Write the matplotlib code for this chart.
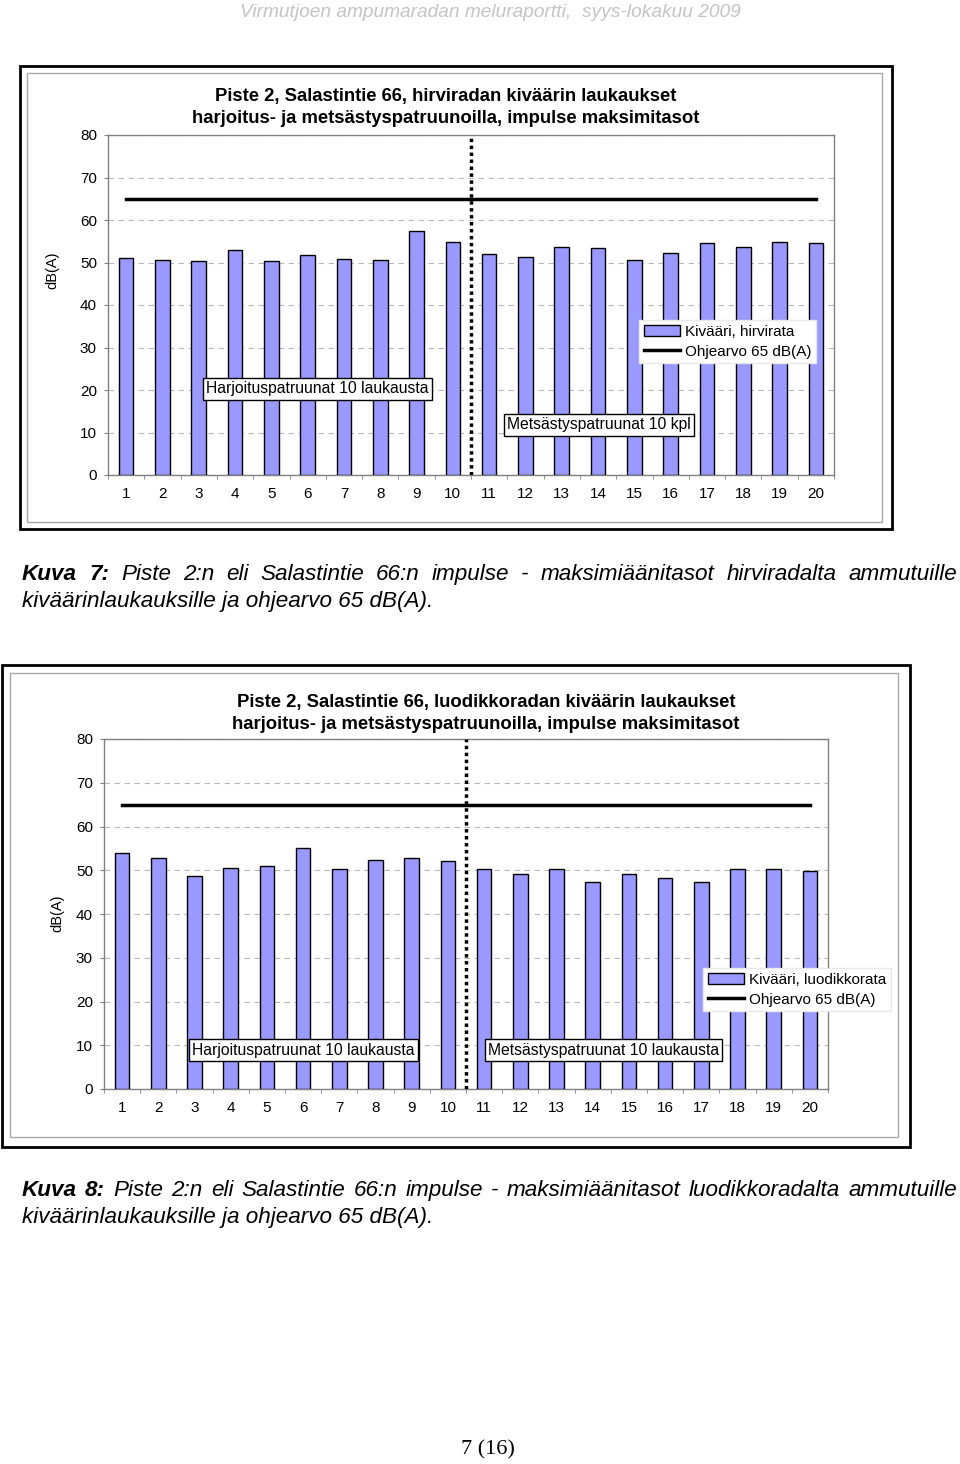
import matplotlib
matplotlib.use("Agg")
import matplotlib.pyplot as plt
from matplotlib.patches import Rectangle, Patch
from matplotlib.lines import Line2D

plt.rcParams['font.family'] = ['Liberation Sans', 'DejaVu Sans']

W, H = 960, 1464

# data
shots = list(range(1, 21))
hirvi_db = [51.1, 50.5, 50.3, 52.9, 50.3, 51.7, 50.8, 50.5, 57.3, 54.9,
            52.0, 51.4, 53.7, 53.4, 50.5, 52.3, 54.6, 53.7, 54.9, 54.6]
luodikko_db = [53.9, 52.7, 48.6, 50.6, 50.9, 55.1, 50.3, 52.4, 52.7, 52.1,
               50.3, 49.1, 50.3, 47.4, 49.1, 48.2, 47.4, 50.3, 50.3, 49.8]
ohjearvo = [65] * 20
y_ticks = [0, 10, 20, 30, 40, 50, 60, 70, 80]
split_at = 10.5

BAR = '#9999ff'
GREY = '#808080'

fig = plt.figure(figsize=(W / 100, H / 100), dpi=100)
fig.patch.set_facecolor('white')


def fx(x):
    return x / W


def fy(y):
    return 1 - y / H


def frame(x0, y0, x1, y1, color, lw):
    fig.add_artist(Rectangle((fx(x0), fy(y1)), (x1 - x0) / W, (y1 - y0) / H,
                             transform=fig.transFigure, fill=False,
                             edgecolor=color, linewidth=lw))


def label_box(x, y, text):
    fig.text(fx(x), fy(y), text, ha='left', va='center', fontsize=11.3,
             bbox=dict(boxstyle='square,pad=0.2', fc='white', ec='black', lw=1))


def draw_chart(outer, inner, plot, values, title, title_pos, ylab_pos,
               legend_label, legend_pos):
    frame(*outer, 'black', 2)
    frame(*inner, '#a8a8a8', 1)
    l, t, r, b = plot
    ax = fig.add_axes([fx(l), fy(b), (r - l) / W, (b - t) / H])
    ax.bar(shots, values, width=0.4, color=BAR, edgecolor='black',
           linewidth=1, zorder=3)
    ax.plot(shots, ohjearvo, color='black', lw=2.5, zorder=4)
    ax.axvline(split_at, color='black', ls=(0, (1, 1)), lw=2.5, zorder=5)
    ax.set_xlim(0.5, 20.5)
    ax.set_ylim(0, 80)
    ax.set_yticks(y_ticks)
    ax.set_xticks(shots)
    ax.set_xticks([s + 0.5 for s in [0] + shots], minor=True)
    ax.tick_params(axis='x', which='major', length=0, pad=9, labelsize=11)
    ax.tick_params(axis='x', which='minor', length=3, color=GREY)
    ax.tick_params(axis='y', length=3, pad=5, color=GREY, labelsize=11)
    ax.yaxis.grid(True, color='#b8b8b8', ls=(0, (5, 4)), lw=0.8)
    ax.set_axisbelow(True)
    for s in ax.spines.values():
        s.set_color(GREY)
        s.set_linewidth(1)

    for i, line in enumerate(title):
        fig.text(fx(title_pos[0]), fy(title_pos[1] + 22 * i), line,
                 ha='center', va='baseline', fontsize=13.3, weight='bold')
    fig.text(fx(ylab_pos[0]), fy(ylab_pos[1]), 'dB(A)', rotation=90,
             ha='center', va='center', fontsize=10.5)

    handles = [Patch(facecolor=BAR, edgecolor='black', label=legend_label),
               Line2D([], [], color='black', lw=2.5, label='Ohjearvo 65 dB(A)')]
    ax.legend(handles=handles, loc='upper left',
              bbox_to_anchor=(fx(legend_pos[0]), fy(legend_pos[1])),
              bbox_transform=fig.transFigure, fancybox=False,
              edgecolor='#e8e8e8', framealpha=1, fontsize=11, borderpad=0.3,
              handlelength=2.4, handletextpad=0.3, labelspacing=0.4,
              borderaxespad=0)
    return ax


def justified(y, tokens, x0, x1, size):
    renderer = fig.canvas.get_renderer()
    texts = []
    for word, bold in tokens:
        texts.append(fig.text(0, fy(y), word, fontsize=size, style='italic',
                              weight='bold' if bold else 'normal',
                              ha='left', va='baseline'))
    widths = [t.get_window_extent(renderer).width for t in texts]
    gap = (x1 - x0 - sum(widths)) / (len(texts) - 1)
    x = x0
    for t, w in zip(texts, widths):
        t.set_x(fx(x))
        x += w + gap


def caption(y, number, rest, second):
    tokens = [('Kuva', True), (number, True)] + [(w, False) for w in rest.split()]
    justified(y, tokens, 22, 957, 16.2)
    fig.text(fx(22), fy(y + 27), second, fontsize=16.2, style='italic',
             ha='left', va='baseline')


# header
fig.text(fx(490), fy(17), 'Virmutjoen ampumaradan meluraportti,  syys-lokakuu 2009',
         ha='center', va='baseline', fontsize=13.8, style='italic', color='#c4c4c4',
         family=['Liberation Sans Narrow', 'Liberation Sans'])

# chart 1
draw_chart((20, 66, 892, 529), (27, 73, 882, 522), (108, 135, 834, 475), hirvi_db,
           ['Piste 2, Salastintie 66, hirviradan kiväärin laukaukset',
            'harjoitus- ja metsästyspatruunoilla, impulse maksimitasot'],
           (446, 101), (52, 270), 'Kivääri, hirvirata', (639, 320))
label_box(206, 389, 'Harjoituspatruunat 10 laukausta')
label_box(507, 425, 'Metsästyspatruunat 10 kpl')
caption(580, '7:', 'Piste 2:n eli Salastintie 66:n impulse - maksimiäänitasot '
        'hirviradalta ammutuille', 'kiväärinlaukauksille ja ohjearvo 65 dB(A).')

# chart 2
draw_chart((2, 665, 910, 1147), (10, 673, 898, 1137), (104, 739, 828, 1089),
           luodikko_db,
           ['Piste 2, Salastintie 66, luodikkoradan kiväärin laukaukset',
            'harjoitus- ja metsästyspatruunoilla, impulse maksimitasot'],
           (486, 707), (57, 913), 'Kivääri, luodikkorata', (703, 968))
label_box(192, 1050, 'Harjoituspatruunat 10 laukausta')
label_box(488, 1050, 'Metsästyspatruunat 10 laukausta')
caption(1196, '8:', 'Piste 2:n eli Salastintie 66:n impulse - maksimiäänitasot '
        'luodikkoradalta ammutuille', 'kiväärinlaukauksille ja ohjearvo 65 dB(A).')

# page number
fig.text(fx(488), fy(1450), '7 (16)', ha='center', va='center', fontsize=16,
         family=['Liberation Serif', 'DejaVu Serif'])

fig.savefig('out.png', dpi=100)
